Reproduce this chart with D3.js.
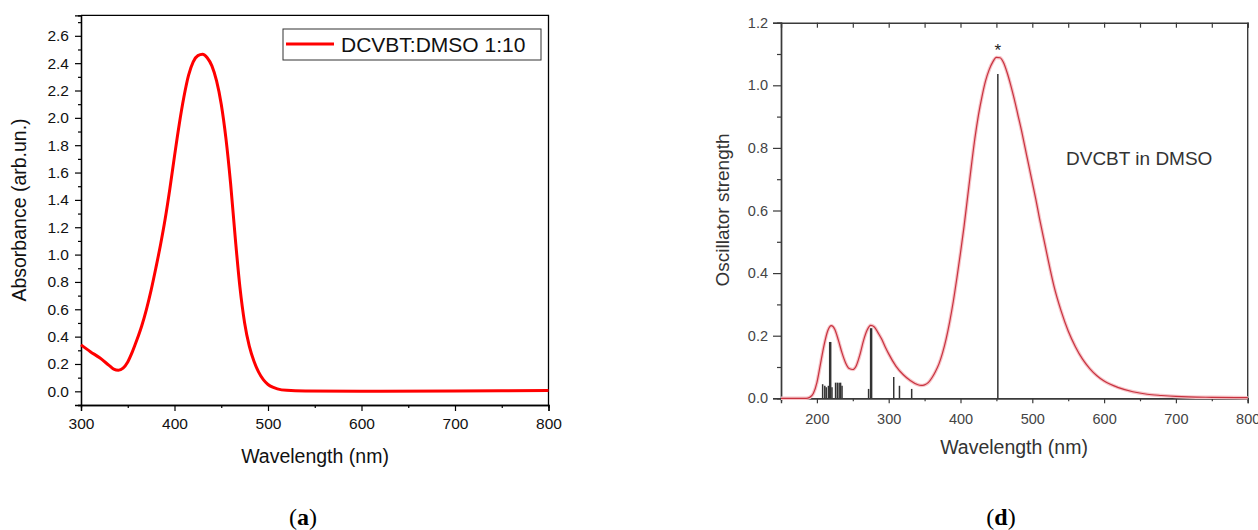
<!DOCTYPE html>
<html>
<head>
<meta charset="utf-8">
<script src="https://cdn.jsdelivr.net/npm/d3@7"></script>
<style>
body{margin:0;background:#fff;}
text{font-family:"Liberation Sans",Arial,sans-serif;}
</style>
</head>
<body>
<svg id="fig" width="1258" height="530"></svg>
<script>
// panel (a): measured absorbance
var absWl  = [300,310,320,330,335,340,345,350,355,360,365,370,375,380,385,390,395,400,405,410,415,420,425,430,435,440,445,450,455,460,465,470,475,480,485,490,495,500,505,510,520,540,600,700,800];
var absVal = [0.34,0.29,0.245,0.19,0.163,0.155,0.17,0.215,0.29,0.38,0.48,0.6,0.74,0.9,1.07,1.26,1.48,1.72,1.95,2.15,2.31,2.41,2.455,2.465,2.44,2.38,2.27,2.1,1.85,1.52,1.12,0.76,0.5,0.33,0.22,0.14,0.085,0.05,0.03,0.018,0.007,0.002,0.0,0.003,0.006];
var absXTicks = [300,400,500,600,700,800];
var absYTicks = [0.0,0.2,0.4,0.6,0.8,1.0,1.2,1.4,1.6,1.8,2.0,2.2,2.4,2.6];

// panel (d): computed spectrum + oscillator sticks
var oscWl  = [150,185,190,195,200,205,210,215,220,225,230,235,240,245,250,255,260,265,270,275,280,285,290,295,300,310,320,330,340,345,350,355,360,365,370,375,380,385,390,395,400,405,410,415,420,425,430,435,440,445,450,455,460,465,470,475,480,485,490,495,500,505,510,515,520,525,530,540,550,560,570,580,590,600,620,640,660,680,700,750,800];
var oscVal = [0,0,0.003,0.015,0.05,0.11,0.17,0.215,0.232,0.22,0.185,0.145,0.113,0.095,0.092,0.105,0.14,0.185,0.218,0.233,0.228,0.21,0.19,0.165,0.142,0.103,0.076,0.057,0.044,0.041,0.043,0.05,0.065,0.085,0.11,0.145,0.19,0.245,0.31,0.385,0.465,0.55,0.645,0.74,0.83,0.905,0.965,1.015,1.05,1.075,1.089,1.088,1.072,1.04,1.0,0.955,0.905,0.855,0.8,0.745,0.69,0.635,0.575,0.52,0.465,0.41,0.36,0.28,0.215,0.165,0.125,0.095,0.072,0.055,0.034,0.021,0.013,0.009,0.006,0.003,0.002];
var stickWl  = [208,211,213,216,218.5,221,226,228.5,231,233,235,272,275.5,307,315,332,452];
var stickVal = [0.045,0.04,0.035,0.04,0.18,0.035,0.05,0.05,0.05,0.05,0.04,0.03,0.224,0.068,0.04,0.03,1.036];
var oscXTicks = [200,300,400,500,600,700,800];
var oscYTicks = [0.0,0.2,0.4,0.6,0.8,1.0,1.2];

var svg = d3.select("#fig");

function minors(a,b,step){
    var out = [];
    for(var v=a; v<=b+1e-9; v+=step) out.push(+v.toFixed(3));
    return out;
}

/* ---------- panel (a) ---------- */
var ax = d3.scaleLinear().domain([300,800]).range([81,548.5]);
var ay = d3.scaleLinear().domain([-0.1,2.75]).range([405,15.3]);
var ga = svg.append("g");

ga.append("g").attr("transform","translate(0,405)")
    .call(d3.axisBottom(ax).tickValues(minors(350,750,100)).tickSize(3).tickFormat(""));
ga.append("g").attr("transform","translate(0,405)")
    .call(d3.axisBottom(ax).tickValues(absXTicks).tickSize(6).tickPadding(7).tickFormat(d3.format("d")));
ga.append("g").attr("transform","translate(81,0)")
    .call(d3.axisLeft(ay).tickValues(minors(-0.1,2.7,0.2)).tickSize(3).tickFormat(""));
ga.append("g").attr("transform","translate(81,0)")
    .call(d3.axisLeft(ay).tickValues(absYTicks).tickSize(6).tickPadding(6).tickFormat(d3.format(".1f")));
ga.selectAll(".domain").attr("stroke","#000").attr("stroke-width",1.3);
ga.selectAll(".tick line").attr("stroke","#000").attr("stroke-width",1.2);
ga.selectAll(".tick text").attr("font-size",15.5).attr("fill","#111")
    .attr("font-family","'Liberation Sans',Arial,sans-serif");
// top + right frame
ga.append("path").attr("d","M81,15.3H548.5V405").attr("fill","none").attr("stroke","#000").attr("stroke-width",1.3);

ga.append("path")
    .datum(d3.zip(absWl,absVal))
    .attr("fill","none").attr("stroke","#ff0000").attr("stroke-width",3)
    .attr("d", d3.line().x(function(d){return ax(d[0]);}).y(function(d){return ay(d[1]);}).curve(d3.curveMonotoneX));

// legend
ga.append("rect").attr("x",283).attr("y",29).attr("width",258).attr("height",31)
    .attr("fill","#fff").attr("stroke","#333").attr("stroke-width",1);
ga.append("line").attr("x1",286).attr("x2",334).attr("y1",44).attr("y2",44)
    .attr("stroke","#ff0000").attr("stroke-width",3);
ga.append("text").attr("x",341).attr("y",51.7).attr("font-size",21).attr("fill","#111").text("DCVBT:DMSO 1:10");

ga.append("text").attr("transform","translate(26,210) rotate(-90)").attr("text-anchor","middle")
    .attr("font-size",19.5).attr("fill","#111").text("Absorbance (arb.un.)");
ga.append("text").attr("x",315).attr("y",463).attr("text-anchor","middle")
    .attr("font-size",19.5).attr("fill","#111").text("Wavelength (nm)");

/* ---------- panel (d) ---------- */
var dx = d3.scaleLinear().domain([150,800]).range([781,1247.7]);
var dy = d3.scaleLinear().domain([0,1.2]).range([398.3,22.7]);
var gd = svg.append("g");
var grey = "#3a3a3a";

gd.append("g").attr("transform","translate(0,398.3)")
    .call(d3.axisBottom(dx).tickValues(minors(250,750,100)).tickSize(3).tickFormat(""));
gd.append("g").attr("transform","translate(0,398.3)")
    .call(d3.axisBottom(dx).tickValues(oscXTicks).tickSize(5).tickPadding(10).tickFormat(d3.format("d")));
gd.append("g").attr("transform","translate(0,22.7)")
    .call(d3.axisBottom(dx).tickValues(minors(200,800,50)).tickSize(5).tickFormat(""));
gd.append("g").attr("transform","translate(781,0)")
    .call(d3.axisLeft(dy).tickValues(minors(0.1,1.1,0.2)).tickSize(4).tickFormat(""));
gd.append("g").attr("transform","translate(781,0)")
    .call(d3.axisLeft(dy).tickValues(oscYTicks).tickSize(8).tickPadding(5).tickFormat(d3.format(".1f")));
gd.selectAll(".domain").attr("stroke",grey).attr("stroke-width",1.4);
gd.selectAll(".tick line").attr("stroke",grey).attr("stroke-width",1.2);
gd.selectAll(".tick text").attr("font-size",14.5).attr("fill","#444")
    .attr("font-family","'Liberation Sans',Arial,sans-serif");
gd.append("path").attr("d","M1247.7,22.7V398.3").attr("fill","none").attr("stroke",grey).attr("stroke-width",1.4);

gd.selectAll("line.stick").data(d3.zip(stickWl,stickVal)).enter()
    .append("line").attr("class","stick")
    .attr("x1",function(d){return dx(d[0]);}).attr("x2",function(d){return dx(d[0]);})
    .attr("y1",dy(0)).attr("y2",function(d){return dy(d[1]);})
    .attr("stroke","#333")
    .attr("stroke-width",function(d){return (d[1]>0.1 && d[1]<0.5) ? 2.5 : 1.5;});

var oscLine = d3.line().x(function(d){return dx(d[0]);}).y(function(d){return dy(d[1]);}).curve(d3.curveMonotoneX);
gd.append("path").datum(d3.zip(oscWl,oscVal))
    .attr("fill","none").attr("stroke","#f6c4c8").attr("stroke-width",3.5).attr("d",oscLine);
gd.append("path").datum(d3.zip(oscWl,oscVal))
    .attr("fill","none").attr("stroke","#c8323f").attr("stroke-width",1.2).attr("d",oscLine);

gd.append("text").attr("x",dx(452)).attr("y",56).attr("text-anchor","middle")
    .attr("font-size",17).attr("fill","#222").text("*");
gd.append("text").attr("x",1066).attr("y",165).attr("font-size",19).attr("fill","#333").text("DVCBT in DMSO");

gd.append("text").attr("transform","translate(729,210) rotate(-90)").attr("text-anchor","middle")
    .attr("font-size",19).attr("fill","#333").text("Oscillator strength");
gd.append("text").attr("x",1014).attr("y",454).attr("text-anchor","middle")
    .attr("font-size",19.5).attr("fill","#333").text("Wavelength (nm)");

/* ---------- captions ---------- */
function caption(x,letter){
    var t = svg.append("text").attr("x",x).attr("y",525).attr("text-anchor","middle")
        .attr("font-size",24).attr("fill","#000")
        .style("font-family","'Liberation Serif','Times New Roman',serif");
    t.append("tspan").text("(");
    t.append("tspan").attr("font-weight","bold").text(letter);
    t.append("tspan").text(")");
}
caption(303,"a");
caption(1001,"d");
</script>
</body>
</html>
